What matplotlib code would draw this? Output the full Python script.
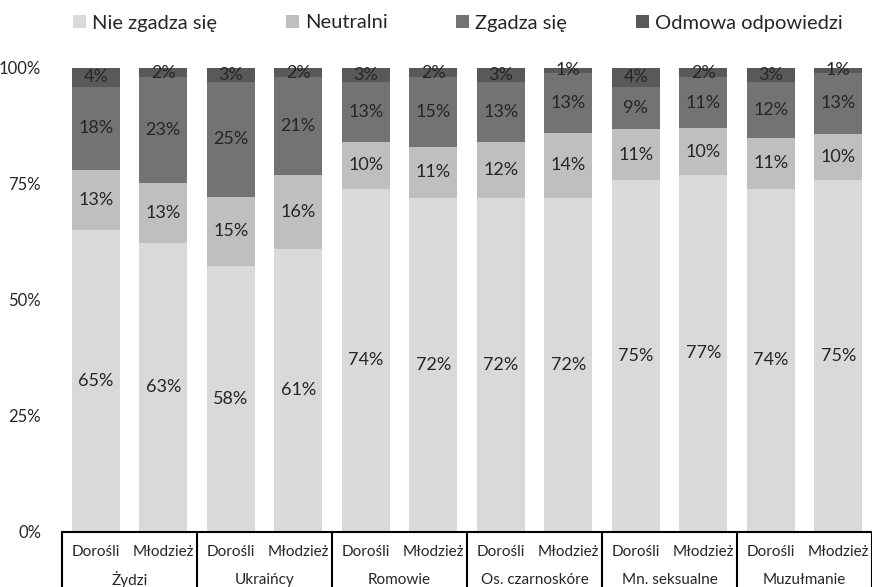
import matplotlib.pyplot as plt
import numpy as np

plt.rcParams['font.family'] = ['Lato', 'DejaVu Sans']

groups = ['Żydzi', 'Ukraińcy', 'Romowie', 'Os. czarnoskóre', 'Mn. seksualne', 'Muzułmanie']
subgroups = ['Dorośli', 'Młodzież']
series = ['Nie zgadza się', 'Neutralni', 'Zgadza się', 'Odmowa odpowiedzi']

nie_zgadza = [65, 63, 58, 61, 74, 72, 72, 72, 75, 77, 74, 75]
neutralni = [13, 13, 15, 16, 10, 11, 12, 14, 11, 10, 11, 10]
zgadza = [18, 23, 25, 21, 13, 15, 13, 13, 9, 11, 12, 13]
odmowa = [4, 2, 3, 2, 3, 2, 3, 1, 4, 2, 3, 1]

colors = ['#d9d9d9', '#bfbfbf', '#737373', '#595959']
txt = '#262626'

data = np.array([nie_zgadza, neutralni, zgadza, odmowa], dtype=float)
shares = data / data.sum(axis=0)  # 100% stacked

fig = plt.figure(figsize=(8.72, 5.87), dpi=100)
ax = fig.add_axes([62 / 872, 55 / 587, 1 - 62 / 872, 464 / 587])

x = np.arange(data.shape[1])
bottom = np.zeros(len(x))
bars = []
for i, name in enumerate(series):
    b = ax.bar(x, shares[i], 0.71, bottom=bottom, color=colors[i], label=name)
    bars.append(b)
    for xi, val, bt, h in zip(x, data[i], bottom, shares[i]):
        ax.text(xi, bt + h / 2, '%d%%' % val, ha='center', va='center',
                fontsize=13, color=txt)
    bottom = bottom + shares[i]

ax.set_xlim(-0.5, 11.5)
ax.set_ylim(0, 1)
ax.set_yticks([0, 0.25, 0.5, 0.75, 1.0])
ax.set_yticklabels(['0%', '25%', '50%', '75%', '100%'], fontsize=12, color=txt)
ax.tick_params(axis='y', length=0, pad=15)
ax.set_xticks([])
for s in ['top', 'right', 'left']:
    ax.spines[s].set_visible(False)
ax.spines['bottom'].set_color('black')
ax.spines['bottom'].set_linewidth(1.5)

# two-level category axis
trans = ax.get_xaxis_transform()
depth = -55 / 464
for k in range(len(groups) + 1):
    ax.plot([2 * k - 0.5, 2 * k - 0.5], [0, depth], color='black', lw=1.5,
            transform=trans, clip_on=False)
for xi in x:
    ax.text(xi, -20 / 464, subgroups[xi % 2], transform=trans, ha='center',
            va='center', fontsize=11, color=txt)
for k, g in enumerate(groups):
    ax.text(2 * k + 0.5, -48 / 464, g, transform=trans, ha='center',
            va='center', fontsize=11, color=txt)

fig.legend(handles=bars, labels=series, loc='center', ncol=4,
           bbox_to_anchor=(458 / 872, 1 - 23 / 587), frameon=False,
           fontsize=14.5, handlelength=0.65, handleheight=0.65,
           handletextpad=0.3, columnspacing=3.4, labelcolor=txt)

fig.savefig('out.png', dpi=100)
